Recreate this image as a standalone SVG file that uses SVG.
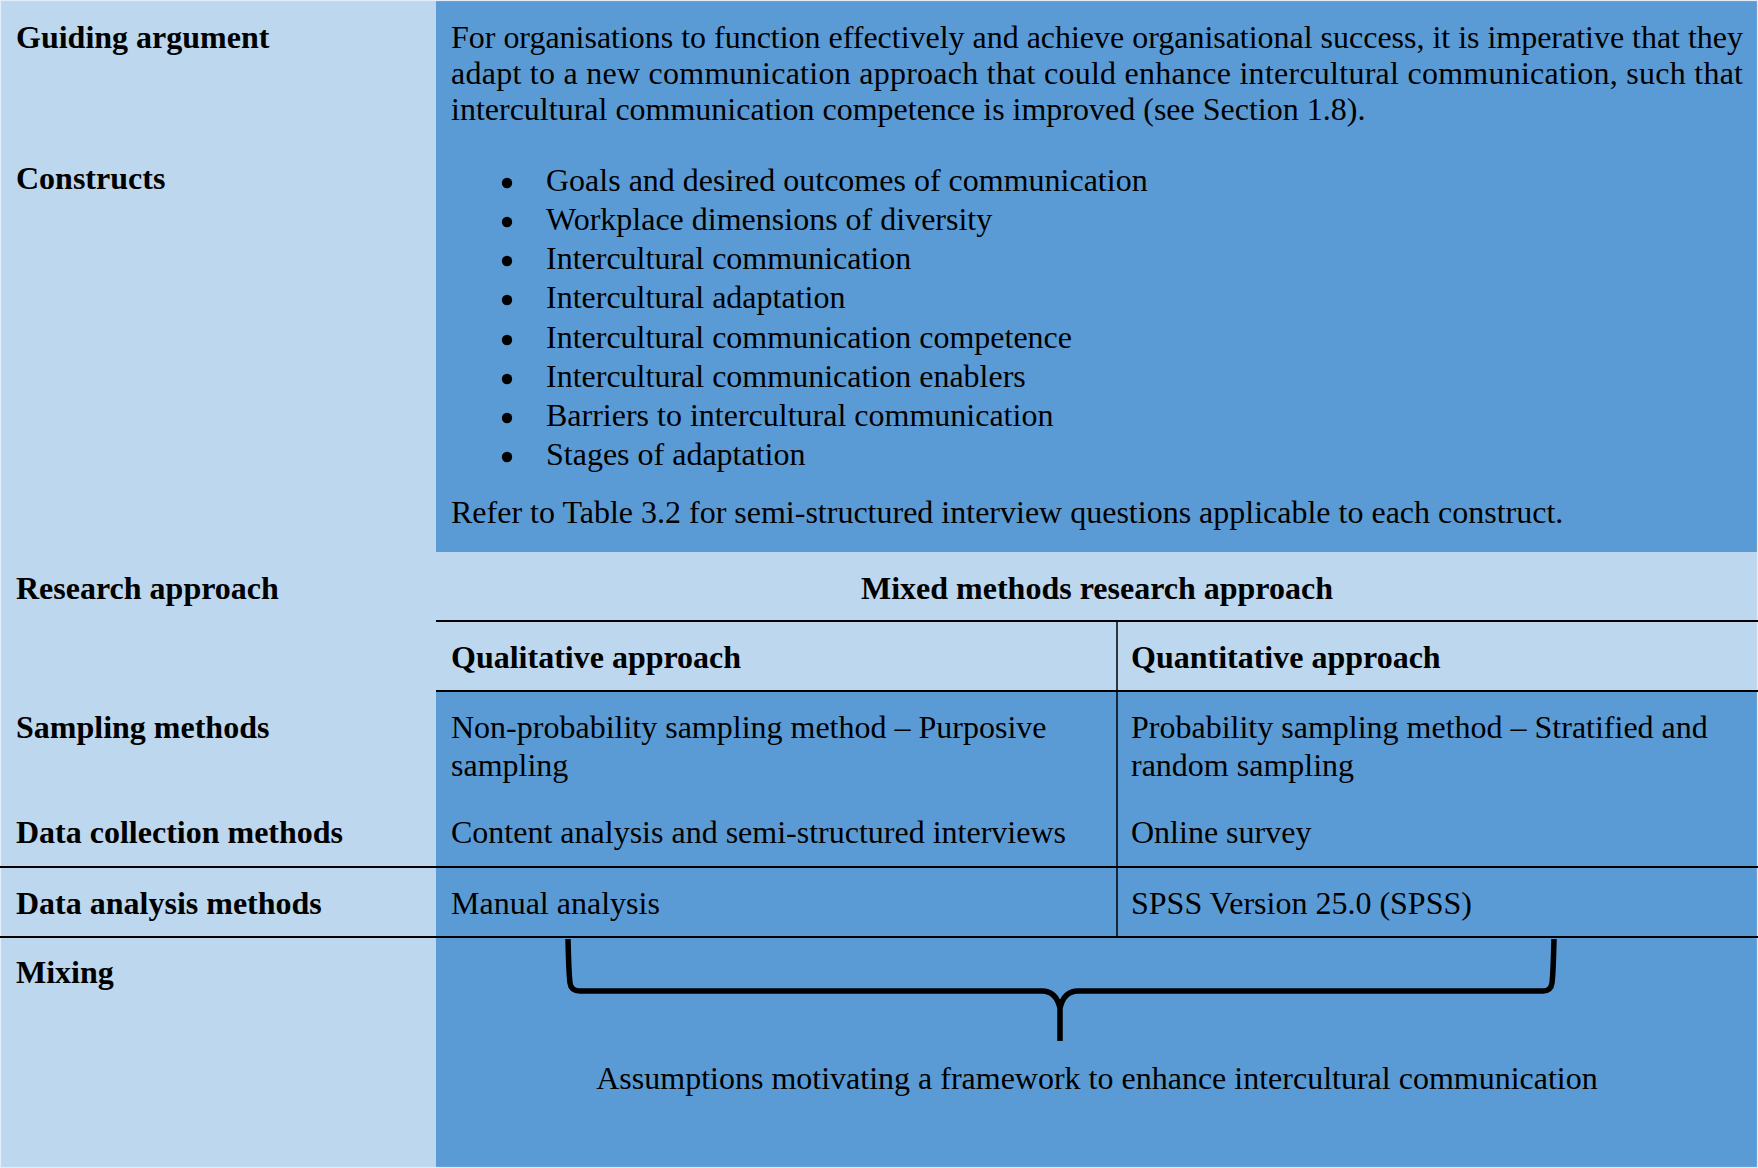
<svg xmlns="http://www.w3.org/2000/svg" width="1758" height="1168" viewBox="0 0 1758 1168">
  <style>
    .t{font-family:"Liberation Serif","Times New Roman",serif;font-size:32px;fill:#000}
    .b{font-weight:bold}
    .mid{text-anchor:middle}
    .light{fill:#BDD7EE}
    .dark{fill:#5B9BD5}
    .rule{stroke:#000;stroke-width:2.2;fill:none}
    .vrule{stroke:#000;stroke-width:1.5;fill:none}
    .brace{stroke:#000;stroke-width:5.5;fill:none;stroke-linejoin:round}
    .dot{fill:#000}
  </style>

  <!-- table background -->
  <g id="background">
    <rect class="light" x="0" y="0" width="1758" height="1168"/>
    <rect class="dark" x="436" y="1" width="1321" height="551"/>
    <rect class="dark" x="436" y="691" width="1321" height="477"/>
    <rect x="0.5" y="0.5" width="1757" height="1167" fill="none" stroke="#E3EDF7" stroke-width="1.2"/>
  </g>

  <!-- row labels -->
  <g id="label-guiding-argument"><text class="t b" x="16" y="48">Guiding argument</text></g>
  <g id="label-constructs"><text class="t b" x="16" y="189">Constructs</text></g>
  <g id="label-research-approach"><text class="t b" x="16" y="599">Research approach</text></g>
  <g id="label-sampling-methods"><text class="t b" x="16" y="738">Sampling methods</text></g>
  <g id="label-data-collection"><text class="t b" x="16" y="843">Data collection methods</text></g>
  <g id="label-data-analysis"><text class="t b" x="16" y="914">Data analysis methods</text></g>
  <g id="label-mixing"><text class="t b" x="16" y="983">Mixing</text></g>

  <!-- guiding argument text -->
  <g id="guiding-argument">
    <text class="t" x="451" y="48" textLength="1292" lengthAdjust="spacing">For organisations to function effectively and achieve organisational success, it is imperative that they</text>
    <text class="t" x="451" y="84" textLength="1292" lengthAdjust="spacing">adapt to a new communication approach that could enhance intercultural communication, such that</text>
    <text class="t" x="451" y="120">intercultural communication competence is improved (see Section 1.8).</text>
  </g>

  <!-- constructs list -->
  <g id="constructs">
    <circle class="dot" cx="507" cy="183" r="5.2"/>
    <circle class="dot" cx="507" cy="222" r="5.2"/>
    <circle class="dot" cx="507" cy="261" r="5.2"/>
    <circle class="dot" cx="507" cy="300" r="5.2"/>
    <circle class="dot" cx="507" cy="340" r="5.2"/>
    <circle class="dot" cx="507" cy="379" r="5.2"/>
    <circle class="dot" cx="507" cy="418" r="5.2"/>
    <circle class="dot" cx="507" cy="457" r="5.2"/>
    <text class="t" x="546" y="191">Goals and desired outcomes of communication</text>
    <text class="t" x="546" y="230">Workplace dimensions of diversity</text>
    <text class="t" x="546" y="269">Intercultural communication</text>
    <text class="t" x="546" y="308">Intercultural adaptation</text>
    <text class="t" x="546" y="348">Intercultural communication competence</text>
    <text class="t" x="546" y="387">Intercultural communication enablers</text>
    <text class="t" x="546" y="426">Barriers to intercultural communication</text>
    <text class="t" x="546" y="465">Stages of adaptation</text>
    <text class="t" x="451" y="523">Refer to Table 3.2 for semi-structured interview questions applicable to each construct.</text>
  </g>

  <!-- research approach headers -->
  <g id="mixed-methods"><text class="t b mid" x="1097" y="599">Mixed methods research approach</text></g>
  <g id="qualitative-header"><text class="t b" x="451" y="668">Qualitative approach</text></g>
  <g id="quantitative-header"><text class="t b" x="1131" y="668">Quantitative approach</text></g>

  <!-- qualitative column -->
  <g id="qualitative">
    <text class="t" x="451" y="738">Non-probability sampling method – Purposive</text>
    <text class="t" x="451" y="776">sampling</text>
    <text class="t" x="451" y="843">Content analysis and semi-structured interviews</text>
    <text class="t" x="451" y="914">Manual analysis</text>
  </g>

  <!-- quantitative column -->
  <g id="quantitative">
    <text class="t" x="1131" y="738">Probability sampling method – Stratified and</text>
    <text class="t" x="1131" y="776">random sampling</text>
    <text class="t" x="1131" y="843">Online survey</text>
    <text class="t" x="1131" y="914">SPSS Version 25.0 (SPSS)</text>
  </g>

  <!-- mixing outcome -->
  <g id="assumptions"><text class="t mid" x="1097" y="1089">Assumptions motivating a framework to enhance intercultural communication</text></g>

  <!-- rules and brace -->
  <g id="connectors">
    <line class="rule" x1="436" y1="621" x2="1758" y2="621"/>
    <line class="rule" x1="436" y1="691" x2="1758" y2="691"/>
    <line class="rule" x1="0" y1="867" x2="1758" y2="867"/>
    <line class="rule" x1="0" y1="937" x2="1758" y2="937"/>
    <line class="vrule" x1="1117" y1="621" x2="1117" y2="937"/>
    <path class="brace" d="M568,939 C568.5,960 569,975 570,983 Q571,991 580,991 L1042,991 Q1056,991 1060,1008 L1060,1041 M1060,1008 Q1064,991 1078,991 L1543,991 Q1551,991 1552,983 C1553,975 1553.5,960 1554,939"/>
  </g>
</svg>
